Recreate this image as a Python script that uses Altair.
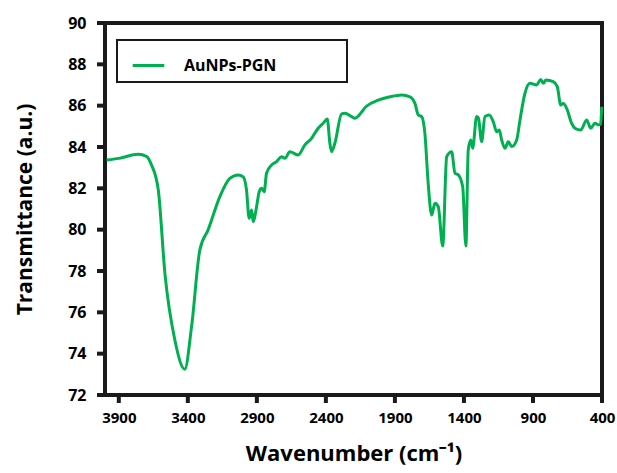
import altair as alt
import pandas as pd

# FTIR spectrum of AuNPs-PGN
wavenumber = [3989, 3900, 3760, 3700, 3663, 3614, 3566, 3494, 3422, 3373, 3313, 3253,
              3168, 3096, 3035, 2999, 2975, 2956, 2938, 2927, 2902, 2883, 2866, 2847,
              2830, 2793, 2757, 2721, 2697, 2661, 2601, 2552, 2504, 2456, 2420, 2390,
              2371, 2359, 2335, 2286, 2262, 2214, 2190, 2105, 2021, 1936, 1851, 1791,
              1755, 1731, 1706, 1683, 1659, 1634, 1610, 1586, 1554, 1525, 1489, 1465,
              1441, 1409, 1386, 1369, 1351, 1337, 1308, 1295, 1272, 1248, 1217, 1188,
              1163, 1144, 1127, 1103, 1079, 1054, 1018, 994, 958, 922, 873, 844, 825,
              806, 753, 724, 699, 680, 656, 620, 596, 554, 511, 482, 451, 427, 410, 402]
transmittance = [83.37, 83.45, 83.65, 83.55, 83.13, 81.92, 77.89, 74.66, 73.25, 75.31, 79.02, 79.99,
                 81.6, 82.48, 82.65, 82.55, 81.92, 80.55, 80.95, 80.39, 81.11, 81.84, 82.0, 81.84,
                 82.73, 83.13, 83.29, 83.53, 83.45, 83.77, 83.61, 84.1, 84.42, 84.91, 85.15, 85.35,
                 84.18, 83.77, 84.18, 85.6, 85.63, 85.47, 85.39, 85.98, 86.27, 86.43, 86.52, 86.43,
                 86.11, 85.55, 85.47, 84.66, 82.24, 80.71, 81.28, 81.11, 79.21, 83.53, 83.77, 82.73,
                 82.65, 82.08, 79.21, 83.85, 84.34, 83.94, 85.47, 85.4, 84.26, 85.47, 85.55, 85.23,
                 84.74, 84.82, 84.34, 83.94, 84.26, 84.02, 84.34, 85.31, 86.6, 87.08, 87.0, 87.27, 87.08,
                 87.24, 87.16, 86.92, 86.03, 86.11, 85.87, 85.15, 84.91, 84.82, 85.31, 84.91, 85.15, 85.07, 85.1, 85.95]

series = "AuNPs-PGN"
x_ticks = [3900, 3400, 2900, 2400, 1900, 1400, 900, 400]
y_ticks = [72, 74, 76, 78, 80, 82, 84, 86, 88, 90]

df = pd.DataFrame({"wn": wavenumber, "t": transmittance, "s": series})
xt = pd.DataFrame({"wn": x_ticks})
yt = pd.DataFrame({"t": y_ticks})

FONT = "Open Sans"
INK = "#1a1a1a"
W, H = 497, 372

x_scale = alt.Scale(domain=[400, 4000], reverse=True, nice=False, zero=False)
y_scale = alt.Scale(domain=[72, 90], nice=False, zero=False)

# widen the legend box to the right of its label
pad = "\u00a0" * 15 + "\u200b"

# heavy plot frame, drawn underneath the spectrum
frame = alt.Chart(xt).mark_rect(fill="white", stroke=INK, strokeWidth=4).encode(
    x=alt.value(0), x2=alt.value(W), y=alt.value(0), y2=alt.value(H))

spectrum = alt.Chart(df).mark_line(strokeWidth=3, interpolate="monotone").encode(
    x=alt.X("wn:Q", scale=x_scale,
            axis=alt.Axis(values=x_ticks, format="d", title="Wavenumber (cm⁻¹)",
                          labelFontSize=15, labelPadding=15,
                          titleFontSize=22, titlePadding=18, labelFlush=False,
                          domain=False, ticks=False)),
    y=alt.Y("t:Q", scale=y_scale,
            axis=alt.Axis(values=y_ticks, title="Transmittance (a.u.)",
                          labelFontSize=16, labelPadding=19,
                          titleFontSize=21, titlePadding=32,
                          domain=False, ticks=False)),
    color=alt.Color("s:N", scale=alt.Scale(domain=[series], range=["#00B050"]),
                    legend=alt.Legend(title=None, orient="none", legendX=12, legendY=17,
                                      strokeColor=INK, fillColor="white",
                                      padding=8, symbolType="stroke", symbolSize=1000,
                                      symbolOffset=6, symbolStrokeWidth=3,
                                      labelFont=FONT, labelFontSize=16,
                                      labelFontWeight="bold", labelColor="black",
                                      labelOffset=18, labelLimit=400,
                                      labelExpr="datum.label + '" + pad + "'")),
)

# outward tick marks on the bottom and left axes
x_tick_marks = alt.Chart(xt).mark_rule(color=INK, strokeWidth=4).encode(
    x=alt.X("wn:Q", scale=x_scale), y=alt.value(H), y2=alt.value(H + 8))
y_tick_marks = alt.Chart(yt).mark_rule(color=INK, strokeWidth=4).encode(
    y=alt.Y("t:Q", scale=y_scale), x=alt.value(0), x2=alt.value(-8))

chart = alt.layer(frame, spectrum, x_tick_marks, y_tick_marks).properties(
    width=W,
    height=H,
    background="white",
    autosize=alt.AutoSizeParams(type="none"),
    padding={"left": 105, "top": 23, "right": 15, "bottom": 78},
).configure_axis(
    grid=False, labelFont=FONT, labelFontWeight="bold", labelColor="black",
    titleFont=FONT, titleFontWeight="bold", titleColor="black",
).configure_view(
    strokeWidth=0
).configure_legend(
    strokeWidth=2
)

chart.save("out.html", embed_options={"renderer": "svg", "actions": False})
